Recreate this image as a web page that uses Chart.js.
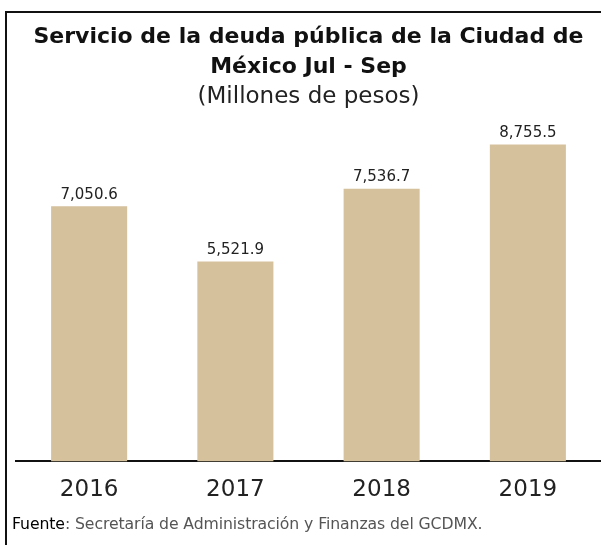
<!DOCTYPE html>
<html>
<head>
<meta charset="utf-8">
<script src="https://cdn.jsdelivr.net/npm/chart.js@4"></script>
<style>
  html, body { margin: 0; padding: 0; background: #fff; }
  #wrap { position: relative; width: 601px; height: 545px; overflow: hidden; }
  #frame { position: absolute; left: 5px; top: 11px; width: 620px; height: 600px;
           border-left: 2px solid #111; border-top: 2px solid #111; box-sizing: border-box; }
  #chart { position: absolute; left: 0; top: 0; }
  #source { position: absolute; left: 12px; top: 514px; font-family: "DejaVu Sans", sans-serif;
            font-size: 15.7px; color: #555; white-space: nowrap; letter-spacing: -0.1px; }
  #source b { color: #000; font-weight: normal; }
</style>
</head>
<body>
<div id="wrap">
  <div id="frame"></div>
  <canvas id="chart" width="601" height="545"></canvas>
  <div id="source"><b>Fuente</b>: Secretaría de Administración y Finanzas del GCDMX.</div>
</div>
<script>
const categories = ["2016", "2017", "2018", "2019"];
const values = [7050.6, 5521.9, 7536.7, 8755.5];
const titleLines = ["Servicio de la deuda pública de la Ciudad de", "México Jul - Sep"];
const subtitleText = "(Millones de pesos)";

const fmt = v => v.toLocaleString("en-US", { minimumFractionDigits: 1, maximumFractionDigits: 1 });

const valueLabels = {
  id: "valueLabels",
  afterDatasetsDraw(chart) {
    const ctx = chart.ctx;
    const meta = chart.getDatasetMeta(0);
    ctx.save();
    ctx.font = "15px 'DejaVu Sans', sans-serif";
    ctx.fillStyle = "#222";
    ctx.textAlign = "center";
    ctx.textBaseline = "bottom";
    meta.data.forEach((bar, i) => {
      ctx.fillText(fmt(values[i]), bar.x, bar.y - 4);
    });
    ctx.restore();
  }
};

new Chart(document.getElementById("chart"), {
  type: "bar",
  data: {
    labels: categories,
    datasets: [{
      data: values,
      backgroundColor: "#D5C19C",
      borderWidth: 0,
      barPercentage: 0.52,
      categoryPercentage: 1.0
    }]
  },
  options: {
    responsive: false,
    animation: false,
    layout: { padding: { left: 16, right: 0, top: 0, bottom: 26 } },
    plugins: {
      legend: { display: false },
      tooltip: { enabled: false },
      title: {
        display: true,
        text: titleLines,
        color: "#111",
        font: { family: "'DejaVu Sans', sans-serif", size: 22, weight: "bold", lineHeight: 1.36 },
        padding: { top: 22, bottom: 0 }
      },
      subtitle: {
        display: true,
        text: subtitleText,
        color: "#222",
        font: { family: "'DejaVu Sans', sans-serif", size: 23, weight: "normal", lineHeight: 1.3 },
        padding: { top: 0, bottom: 8 }
      }
    },
    scales: {
      x: {
        grid: { display: false, drawTicks: false },
        border: { display: true, color: "#111", width: 2 },
        ticks: { color: "#222", font: { family: "'DejaVu Sans', sans-serif", size: 23 }, padding: 15 }
      },
      y: {
        display: false,
        min: 0,
        max: 9440
      }
    }
  },
  plugins: [valueLabels]
});
</script>
</body>
</html>
